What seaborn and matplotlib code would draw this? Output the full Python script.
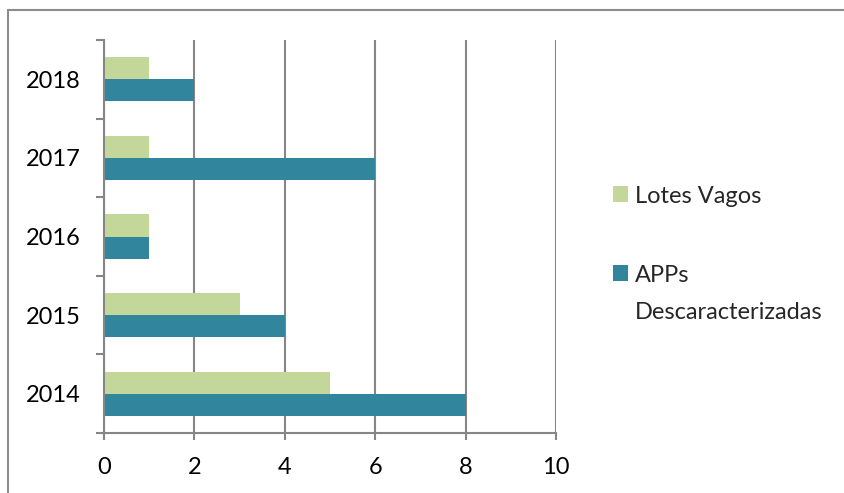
import matplotlib
matplotlib.use("Agg")
import matplotlib.pyplot as plt
import seaborn as sns
import pandas as pd
from matplotlib.lines import Line2D

years = ["2018", "2017", "2016", "2015", "2014"]
lotes_vagos = [1, 1, 1, 3, 5]
apps_descaracterizadas = [2, 6, 1, 4, 8]
series_names = ["Lotes Vagos", "APPs\nDescaracterizadas"]
x_ticks = [0, 2, 4, 6, 8, 10]

df = pd.DataFrame({
    "year": years * 2,
    "value": lotes_vagos + apps_descaracterizadas,
    "series": [series_names[0]] * len(years) + [series_names[1]] * len(years),
})

sns.set_theme(style="white")
plt.rcParams["font.family"] = ["Lato", "DejaVu Sans"]

GRID = "#868686"
fig = plt.figure(figsize=(8.45, 4.93), dpi=100)
ax = fig.add_axes([104 / 845, 60 / 493, 452 / 845, 393 / 493])

sns.barplot(data=df, y="year", x="value", hue="series", order=years,
            hue_order=series_names, orient="h", width=0.56, gap=0,
            palette=["#C4D79B", "#31859C"], edgecolor="none", saturation=1,
            ax=ax, legend=True)

ax.set_xlim(0, 10)
ax.set_ylim(4.5, -0.5)
ax.set_xticks(x_ticks)
ax.set_xticklabels([str(t) for t in x_ticks])
ax.set_yticks(range(len(years)))
ax.set_yticks([i - 0.5 for i in range(len(years) + 1)], minor=True)
ax.set_xlabel("")
ax.set_ylabel("")
ax.grid(axis="x", color=GRID, linewidth=1.5)
ax.set_axisbelow(True)
for s in ["top", "right"]:
    ax.spines[s].set_visible(False)
for s in ["left", "bottom"]:
    ax.spines[s].set_color(GRID)
    ax.spines[s].set_linewidth(1.5)
ax.tick_params(axis="y", which="major", length=0, pad=17, labelsize=17, labelcolor="black")
ax.tick_params(axis="y", which="minor", length=6, width=1.5, color=GRID, left=True)
ax.tick_params(axis="x", which="major", length=5, width=1.5, color=GRID, bottom=True,
               pad=12, labelsize=17, labelcolor="black")

handles, labels = ax.get_legend_handles_labels()
ax.get_legend().remove()
leg = fig.legend(handles, labels, loc="center left", bbox_to_anchor=(613 / 845, 0.483),
                 frameon=False, fontsize=17, handlelength=0.64, handleheight=0.64,
                 handletextpad=0.3, labelspacing=2.45, borderpad=0, borderaxespad=0)
for t in leg.get_texts():
    t.set_linespacing(1.95)
for col in leg._legend_handle_box.get_children():
    for item in col.get_children():
        item.align = "top"

# outer chart border (top and left visible)
fig.add_artist(Line2D([8 / 845, 8 / 845], [0, 1 - 10 / 493], transform=fig.transFigure,
                      color="#8c8c8c", linewidth=1.5))
fig.add_artist(Line2D([8 / 845, 1], [1 - 10 / 493, 1 - 10 / 493], transform=fig.transFigure,
                      color="#8c8c8c", linewidth=1.5))

fig.savefig("out.png", dpi=100)
